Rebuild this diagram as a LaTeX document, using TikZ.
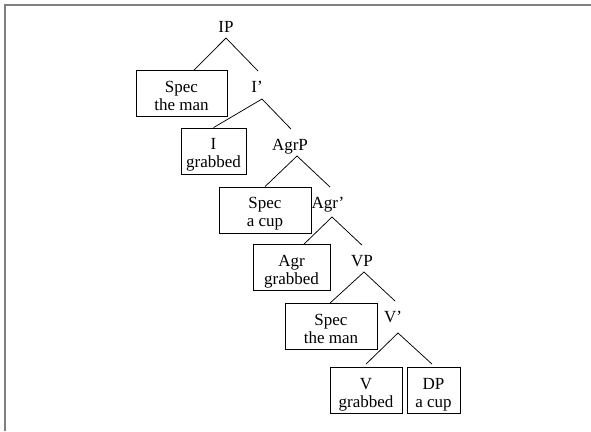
\documentclass[tikz,border=0pt]{standalone}
\usepackage{fontspec}
\setmainfont{Liberation Serif}
% struts that fix the first baseline and the space under the last line of a box
\newcommand\tpstrut{\rule{0pt}{19pt}}
\newcommand\btstrut{\rule[-4pt]{0pt}{4pt}}
\begin{document}
\begin{tikzpicture}[x=1pt,y=-1pt,
  every node/.style={font=\fontsize{17}{18}\selectfont},
  cat/.style={inner sep=0pt, anchor=base},
  tbox/.style={draw, line width=0.8pt, align=center, inner xsep=2pt,
               inner ysep=2.5pt, minimum width=#1},
  branch/.style={line width=0.75pt},
  frame/.style={draw=gray, line width=1.6pt}]
\useasboundingbox (0,0) rectangle (591,431);
\draw[frame] (5,431) -- (5,5) -- (591,5);

% phrase labels and boxed constituents
\node[cat] (ip) at (226,32) {IP};
\node[tbox=91pt] (spec1) at (181.5,93.5) {\tpstrut Spec\\the man\btstrut};
\node[cat] (ibar) at (257,92) {I’};
\node[tbox=65pt] (i) at (213.5,151) {\tpstrut I\\grabbed\btstrut};
\node[cat] (agrp) at (290,150) {AgrP};
\node[tbox=92pt] (spec2) at (265,210) {\tpstrut Spec\\a cup\btstrut};
\node[cat] (agrbar) at (328,208) {Agr’};
\node[tbox=77pt] (agr) at (291.5,267.5) {\tpstrut Agr\\grabbed\btstrut};
\node[cat] (vp) at (362,266) {VP};
\node[tbox=92pt] (spec3) at (331,326.5) {\tpstrut Spec\\the man\btstrut};
\node[cat] (vbar) at (393,322) {V’};
\node[tbox=72pt] (v) at (366,390.5) {\tpstrut V\\grabbed\btstrut};
\node[tbox=53pt] (dp) at (433.5,390.5) {\tpstrut DP\\a cup\btstrut};

% branching points under each label
\coordinate (ip-fork) at (226,38);
\coordinate (ibar-fork) at (262,99);
\coordinate (agrp-fork) at (297,156);
\coordinate (agrbar-fork) at (332,217);
\coordinate (vp-fork) at (364,272);
\coordinate (vbar-fork) at (398,333);

\draw[branch] (ip-fork) -- ([xshift=12.5pt]spec1.north);
\draw[branch] (ip-fork) -- ([xshift=1pt,yshift=9.5pt]ibar.north);
\draw[branch] (ibar-fork) -- (i.north);
\draw[branch] (ibar-fork) -- ([xshift=1pt,yshift=9.5pt]agrp.north);
\draw[branch] (agrp-fork) -- (spec2.north);
\draw[branch] (agrp-fork) -- ([xshift=2pt,yshift=9.5pt]agrbar.north);
\draw[branch] (agrbar-fork) -- ([xshift=12.5pt]agr.north);
\draw[branch] (agrbar-fork) -- ([yshift=9.5pt]vp.north);
\draw[branch] (vp-fork) -- ([xshift=-1pt]spec3.north);
\draw[branch] (vp-fork) -- ([xshift=2pt,yshift=9.5pt]vbar.north);
\draw[branch] (vbar-fork) -- ([yshift=3pt]v.north);
\draw[branch] (vbar-fork) -- ([xshift=-1.5pt,yshift=3pt]dp.north);
\end{tikzpicture}
\end{document}
